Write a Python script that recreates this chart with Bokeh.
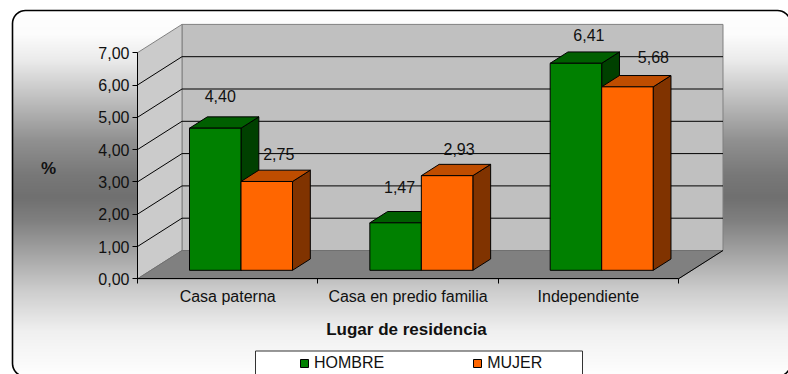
import numpy as np
from bokeh.embed import file_html
from bokeh.resources import INLINE
from bokeh.plotting import figure
from bokeh.models import LinearAxis, FixedTicker, Legend, LegendItem, Range1d
from bokeh.core.properties import value

categories = ["Casa paterna", "Casa en predio familia", "Independiente"]
hombre = [4.40, 1.47, 6.41]
mujer = [2.75, 2.93, 5.68]
hombre_text = ["4,40", "1,47", "6,41"]
mujer_text = ["2,75", "2,93", "5,68"]
y_ticks = [0, 1, 2, 3, 4, 5, 6, 7]
y_labels = ["0,00", "1,00", "2,00", "3,00", "4,00", "5,00", "6,00", "7,00"]

FONT = "Liberation Sans"
W, H = 788, 374
PX_CAT, PX_VAL = 180.33, 32.3
ORIGIN_X, ORIGIN_Y = 137.0, 278.3   # window pixels of axis origin


def dx(px):
    return (px - ORIGIN_X) / PX_CAT


def dy(py):
    return (ORIGIN_Y - py) / PX_VAL


DEP_X, DEP_Y = 44.5 / PX_CAT, 28.3 / PX_VAL


def proj(x, v, d):
    return x + d * DEP_X, v + d * DEP_Y


p = figure(width=W, height=H, output_backend="svg", toolbar_location=None,
           x_range=Range1d(dx(0), dx(W)), y_range=Range1d(dy(H), dy(0)),
           x_axis_location=None, y_axis_location=None, min_border=0,
           outline_line_color=None, background_fill_color="white",
           border_fill_color="white")
p.grid.visible = False

# background: rounded panel with a vertical gradient
left, top, right, bottom, rad = 12.0, 10.0, 790.0, 376.0, 13.0
py = np.arange(H)[::-1] + 0.5
px = np.arange(W) + 0.5
stops_y = [10, 35, 60, 100, 140, 175, 197, 220, 240, 290, 330, 376]
stops_g = [255, 252, 235, 190, 145, 120, 112, 128, 150, 205, 240, 255]
g = np.interp(py, stops_y, stops_g).astype(np.uint32)
gray = np.repeat(g[:, None], W, axis=1)
qx = np.maximum(np.maximum(left + rad - px, px - (right - rad)), 0)[None, :]
qy = np.maximum(np.maximum(top + rad - py, py - (bottom - rad)), 0)[:, None]
inside = (qx ** 2 + qy ** 2 <= rad ** 2)
rgba = (np.where(inside, 255, 0).astype(np.uint32) << 24) | (gray << 16) | (gray << 8) | gray
p.image_rgba(image=[rgba], x=dx(0), y=dy(H), dw=dx(W) - dx(0), dh=dy(0) - dy(H))

t = np.linspace(0, np.pi / 2, 10)
corner_x = np.concatenate([left + rad - rad * np.cos(t), right - rad + rad * np.sin(t),
                           right - rad + rad * np.cos(t), left + rad - rad * np.sin(t), [left]])
corner_y = np.concatenate([top + rad - rad * np.sin(t), top + rad - rad * np.cos(t),
                           bottom - rad + rad * np.sin(t), bottom - rad + rad * np.cos(t), [top + rad]])
p.line(dx(corner_x), dy(corner_y), line_color="black", line_width=1.6)

# walls and floor
n = len(categories)
vmax = max(y_ticks)
wall_back = [proj(0, 0, 1), proj(n, 0, 1), proj(n, vmax, 1), proj(0, vmax, 1)]
wall_left = [proj(0, 0, 0), proj(0, 0, 1), proj(0, vmax, 1), proj(0, vmax, 0)]
floor = [proj(0, 0, 0), proj(n, 0, 0), proj(n, 0, 1), proj(0, 0, 1)]
p.patch(*zip(*wall_back), fill_color="#c0c0c0", line_color="#808080", line_width=1)
p.patch(*zip(*wall_left), fill_color="#cbcbcb", line_color="#808080", line_width=1)
p.patch(*zip(*floor), fill_color="#808080", line_color="#707070", line_width=1)

# grid lines running along the left wall then the back wall
gx, gy = [], []
for v in y_ticks[1:-1]:
    pts = [proj(0, v, 0), proj(0, v, 1), proj(n, v, 1)]
    gx.append([a for a, _ in pts])
    gy.append([b for _, b in pts])
p.multi_line(gx, gy, line_color="black", line_width=1)
edge = [proj(n, 0, 1), proj(n, 0, 0)]
p.line(*zip(*edge), line_color="black", line_width=1)

# bars
BAR_W = 51.5 / PX_CAT
D0, D1 = 0.3, 0.7


def bar_faces(values, slot):
    fronts, tops, sides = [], [], []
    for i, v in enumerate(values):
        x0 = i + 0.5 + slot * BAR_W
        x1 = x0 + BAR_W
        fronts.append([proj(x0, 0, D0), proj(x1, 0, D0), proj(x1, v, D0), proj(x0, v, D0)])
        tops.append([proj(x0, v, D0), proj(x1, v, D0), proj(x1, v, D1), proj(x0, v, D1)])
        sides.append([proj(x1, 0, D0), proj(x1, 0, D1), proj(x1, v, D1), proj(x1, v, D0)])
    return fronts, tops, sides


def draw(values, slot, front, top_c, side):
    fronts, tops, sides = bar_faces(values, slot)
    r = None
    for faces, col in ((sides, side), (tops, top_c), (fronts, front)):
        r = p.patches([[a for a, _ in f] for f in faces], [[b for _, b in f] for f in faces],
                      fill_color=col, line_color="black", line_width=1)
    return r


r_h = draw(hombre, -1, "#008000", "#005f00", "#004000")
r_m = draw(mujer, 0, "#ff6600", "#bf4d00", "#803300")

# data labels (offsets in px from the top centre of each bar)
off_hx, off_hy = [5, 4, 13], [-32, -36, -28]
off_mx, off_my = [12, 12, 26], [-27, -27, -30]
for vals, texts, slot, ox, oy in ((hombre, hombre_text, -0.5, off_hx, off_hy),
                                  (mujer, mujer_text, 0.5, off_mx, off_my)):
    xs, ys = [], []
    for i, v in enumerate(vals):
        a, b = proj(i + 0.5 + slot * BAR_W, v, D0)
        xs.append(a + ox[i] / PX_CAT)
        ys.append(b - oy[i] / PX_VAL)
    p.text(xs, ys, text=texts, text_font=value(FONT), text_font_size="16px", text_color="#111111",
           text_align="center", text_baseline="middle")

# axes
ya = LinearAxis(fixed_location=0, ticker=FixedTicker(ticks=y_ticks), bounds=(0, vmax),
                major_label_overrides={t_: l for t_, l in zip(y_ticks, y_labels)},
                major_tick_in=0, major_tick_out=5, minor_tick_line_color=None,
                major_label_standoff=3, major_label_text_font=FONT,
                major_label_text_font_size="16px", major_label_text_color="#111111",
                axis_line_color="black", major_tick_line_color="black")
p.add_layout(ya, "left")

cat_ticks = list(range(n + 1))
xa = LinearAxis(fixed_location=0, ticker=FixedTicker(ticks=cat_ticks), bounds=(0, n),
                major_label_overrides={c: "" for c in cat_ticks},
                major_tick_in=0, major_tick_out=5, minor_tick_line_color=None,
                axis_line_color="black", major_tick_line_color="black")
p.add_layout(xa, "below")
mid = [i + 0.5 for i in range(n)]
xb = LinearAxis(fixed_location=0, ticker=FixedTicker(ticks=mid),
                major_label_overrides={m: c for m, c in zip(mid, categories)},
                major_tick_line_color=None, minor_tick_line_color=None, axis_line_color=None,
                major_tick_in=0, major_tick_out=0, major_label_standoff=9,
                major_label_text_font=FONT, major_label_text_font_size="16px",
                major_label_text_color="#111111")
p.add_layout(xb, "below")

# axis titles
p.text([dx(48)], [dy(168)], text=["%"], text_font=value(FONT), text_font_size="17px",
       text_font_style="bold", text_align="center", text_baseline="middle", text_color="#111111")
p.text([dx(406)], [dy(329)], text=["Lugar de residencia"], text_font=value(FONT),
       text_font_size="17px", text_font_style="bold", text_align="center",
       text_baseline="middle", text_color="#111111")

# legend
p.quad(left=[dx(255)], right=[dx(582)], top=[dy(350.5)], bottom=[dy(380)], fill_color="white",
       line_color="#333333", line_width=1)
legend = Legend(items=[LegendItem(label="HOMBRE", renderers=[r_h]),
                       LegendItem(label="MUJER", renderers=[r_m])],
                orientation="horizontal", location=(299, 2), padding=0, margin=0, spacing=88,
                glyph_width=10, glyph_height=10, label_standoff=5,
                label_text_font=FONT, label_text_font_size="16px", label_text_color="#111111",
                background_fill_alpha=0, border_line_color=None)
p.add_layout(legend, "center")

open("out.html", "w").write(file_html(p, INLINE))
